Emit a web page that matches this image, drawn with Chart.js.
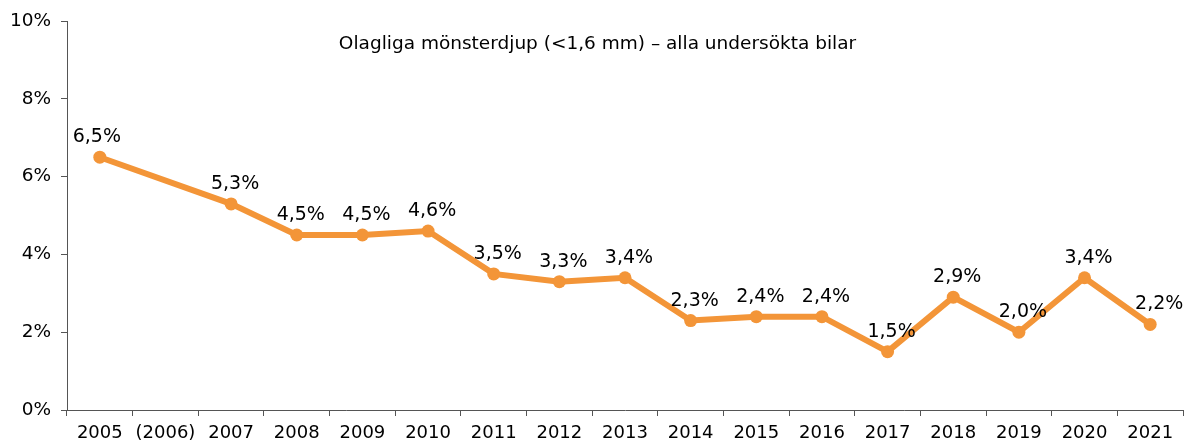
<!DOCTYPE html>
<html lang="sv">
<head>
    <meta charset="UTF-8">
    <title>Olagliga mönsterdjup</title>
    <script src="https://cdn.jsdelivr.net/npm/chart.js"></script>
    <style>
        html, body { margin: 0; padding: 0; background: #fff; }
        #wrap { width: 1195px; height: 441px; }
    </style>
</head>
<body>
    <div id="wrap"><canvas id="monsterChart"></canvas></div>

    <script>
        // data
        const ar = ['2005', '(2006)', '2007', '2008', '2009', '2010', '2011', '2012', '2013',
                    '2014', '2015', '2016', '2017', '2018', '2019', '2020', '2021'];
        const andel = [6.5, null, 5.3, 4.5, 4.5, 4.6, 3.5, 3.3, 3.4,
                       2.3, 2.4, 2.4, 1.5, 2.9, 2.0, 3.4, 2.2];
        const yTicks = [0, 2, 4, 6, 8, 10];
        const rubrik = 'Olagliga mönsterdjup (<1,6 mm) – alla undersökta bilar';

        const orange = '#F39538';
        const axelFarg = '#555555';
        const typsnitt = '"DejaVu Sans", "Liberation Sans", Arial, sans-serif';

        Chart.defaults.font.family = typsnitt;
        Chart.defaults.color = '#000';

        // etiketter ovanför punkterna + rubrik i diagramytan
        const etiketter = {
            id: 'etiketter',
            afterDatasetsDraw(chart) {
                const ctx = chart.ctx;
                const meta = chart.getDatasetMeta(0);
                ctx.save();
                ctx.font = '19px ' + typsnitt;
                ctx.fillStyle = '#000';
                ctx.textAlign = 'center';
                ctx.textBaseline = 'alphabetic';
                meta.data.forEach((pt, i) => {
                    const v = andel[i];
                    if (v === null) return;
                    const txt = v.toFixed(1).replace('.', ',') + '%';
                    let x = pt.x + 4;
                    if (i === 0) x = pt.x - 3;
                    if (i === andel.length - 1) x = pt.x + 9;
                    ctx.fillText(txt, x, pt.y - 15);
                });
                ctx.font = '18.5px ' + typsnitt;
                ctx.fillText(rubrik, chart.width / 2, 49);
                ctx.restore();
            }
        };

        const ctx = document.getElementById('monsterChart').getContext('2d');
        new Chart(ctx, {
            type: 'line',
            data: {
                labels: ar,
                datasets: [{
                    data: andel,
                    borderColor: orange,
                    backgroundColor: orange,
                    borderWidth: 6,
                    pointRadius: 6.5,
                    pointHoverRadius: 6.5,
                    pointBackgroundColor: orange,
                    pointBorderWidth: 0,
                    spanGaps: true,
                    tension: 0,
                    clip: false
                }]
            },
            options: {
                responsive: true,
                maintainAspectRatio: false,
                animation: false,
                layout: { padding: { top: 21, right: 12, left: 0, bottom: 0 } },
                plugins: {
                    legend: { display: false },
                    tooltip: { enabled: false }
                },
                scales: {
                    x: {
                        offset: true,
                        grid: {
                            offset: true,
                            drawOnChartArea: false,
                            tickLength: 6,
                            color: axelFarg
                        },
                        border: { color: axelFarg, width: 1 },
                        ticks: {
                            font: { size: 18 },
                            color: '#000',
                            padding: 7,
                            maxRotation: 0,
                            autoSkip: false
                        },
                        afterFit(scale) { scale.height = 31; }
                    },
                    y: {
                        min: 0,
                        max: 10,
                        afterBuildTicks(scale) {
                            scale.ticks = yTicks.map(v => ({ value: v }));
                        },
                        grid: {
                            drawOnChartArea: false,
                            tickLength: 6,
                            color: axelFarg
                        },
                        border: { color: axelFarg, width: 1 },
                        ticks: {
                            font: { size: 18.5 },
                            color: '#000',
                            padding: 10,
                            callback: v => v + '%'
                        },
                        afterFit(scale) { scale.width = 67; }
                    }
                }
            },
            plugins: [etiketter]
        });
    </script>
</body>
</html>
